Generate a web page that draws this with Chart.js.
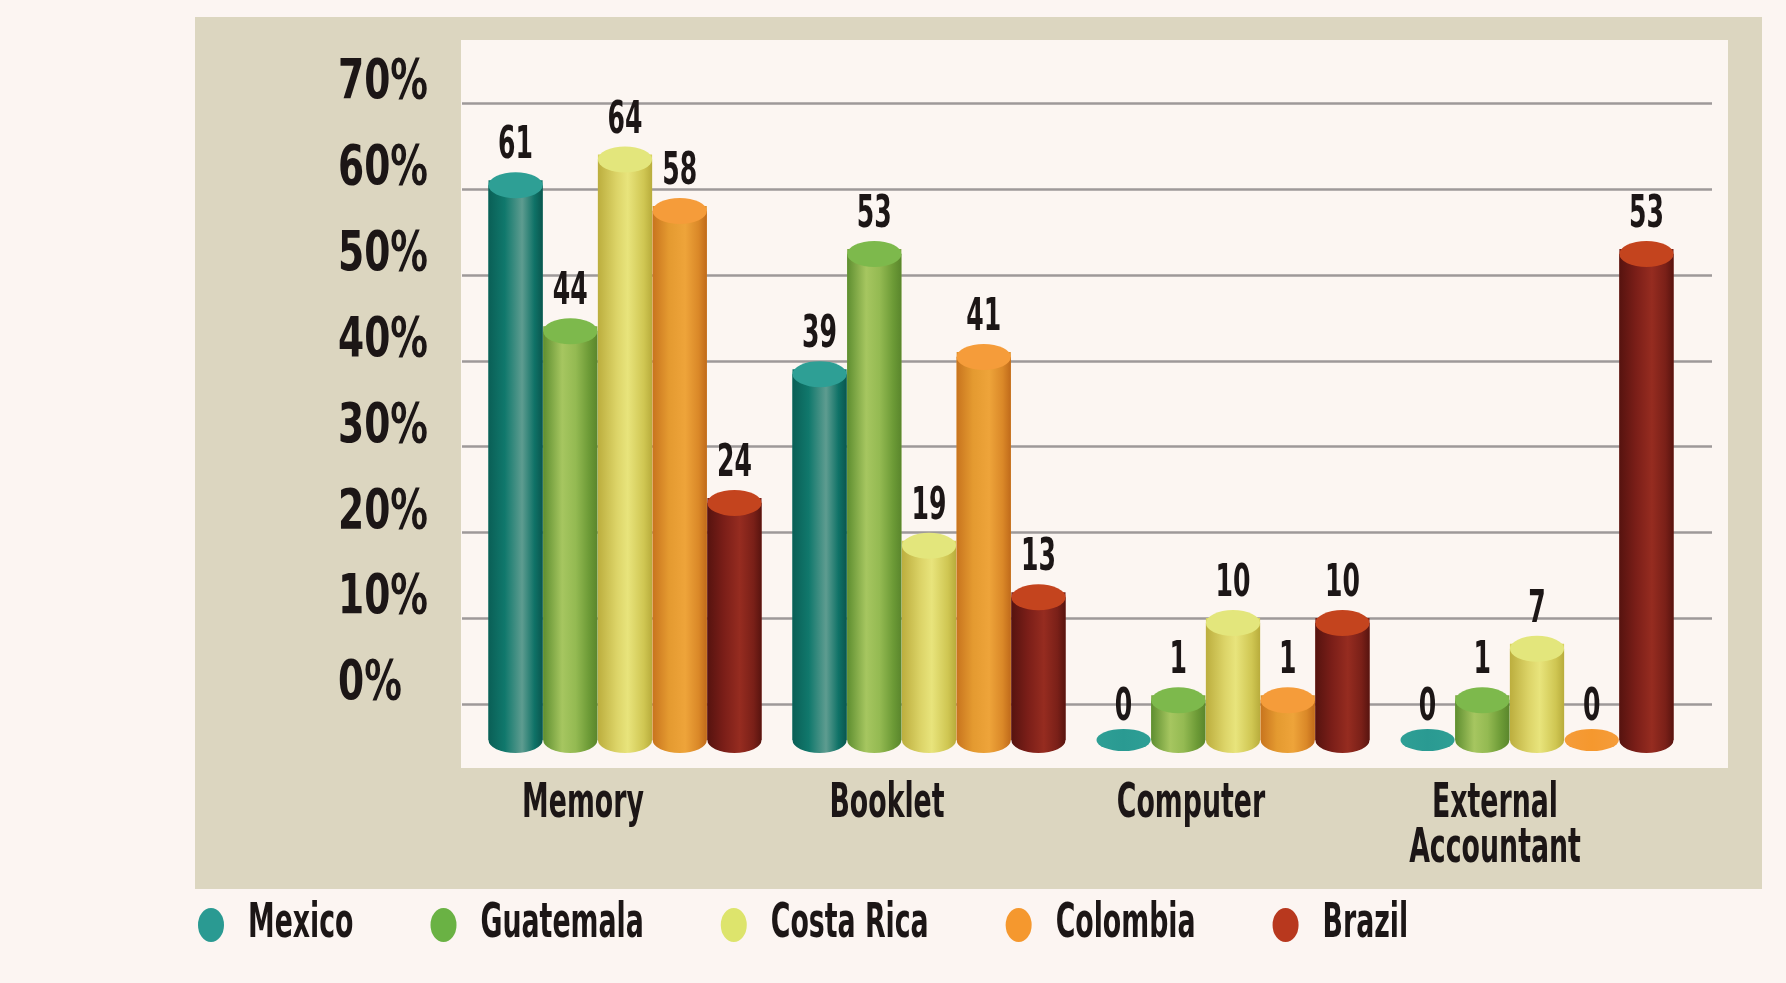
<!DOCTYPE html>
<html><head><meta charset="utf-8">
<script src="https://cdn.jsdelivr.net/npm/chart.js@4"></script>
<style>html,body{margin:0;padding:0;background:#FCF5F2;}canvas{display:block;}</style>
</head><body>
<canvas id="c" width="1786" height="983"></canvas>
<script>
// ---- data ----
const categories = ['Memory', 'Booklet', 'Computer', ['External', 'Accountant']];
const countries = ['Mexico', 'Guatemala', 'Costa Rica', 'Colombia', 'Brazil'];
const mexico    = [61, 39, 0, 0];
const guatemala = [44, 53, 1, 1];
const costaRica = [64, 19, 10, 7];
const colombia  = [58, 41, 1, 0];
const brazil    = [24, 13, 10, 53];
const yTickValues = [0, 10, 20, 30, 40, 50, 60, 70];
const yTickLabels = ['0%', '10%', '20%', '30%', '40%', '50%', '60%', '70%'];

// ---- styles ----
const FONT = '"DejaVu Sans Condensed", "DejaVu Sans", sans-serif';
const TEXT = '#1C1616';
const palettes = [
  { solid: '#137A6E', cap: '#2E9F95', legend: '#2A9A92',
    body: [[0, '#0A5F56'], [0.3, '#10786C'], [0.62, '#5E9C90'], [0.85, '#0F7267'], [1, '#0A564E']] },
  { solid: '#7FA944', cap: '#7DB94C', legend: '#6AB244',
    body: [[0, '#5E8E30'], [0.35, '#A6C660'], [0.6, '#94BA52'], [0.85, '#6C9A36'], [1, '#5A862C']] },
  { solid: '#D8D262', cap: '#E3E67C', legend: '#DDE46C',
    body: [[0, '#BCAE3E'], [0.35, '#DCD468'], [0.55, '#E8E47C'], [0.85, '#CFC652'], [1, '#B8AC3C']] },
  { solid: '#E2922C', cap: '#F59C3A', legend: '#F5982E',
    body: [[0, '#C8741E'], [0.3, '#E49A30'], [0.6, '#EEA43A'], [0.85, '#DA8828'], [1, '#C06A1A']] },
  { solid: '#7E2219', cap: '#C4441E', legend: '#B8381E',
    body: [[0, '#56130F'], [0.3, '#7A1E18'], [0.6, '#962C20'], [0.85, '#7A2018'], [1, '#58140F']] }
];
const seriesValues = [mexico, guatemala, costaRica, colombia, brazil];

// condensed text rendering (narrow display face is not installed)
const canvas = document.getElementById('c');
const ctx2d = canvas.getContext('2d');
function sxFor(font) {
  const m = /(\d+(?:\.\d+)?)px/.exec(font);
  const s = m ? parseFloat(m[1]) : 12;
  return s >= 52 ? 0.76 : 0.62;
}
const protoFill = CanvasRenderingContext2D.prototype.fillText;
const protoMeasure = CanvasRenderingContext2D.prototype.measureText;
ctx2d.fillText = function (t, x, y, mw) {
  const sx = sxFor(this.font);
  this.save();
  this.translate(x, y);
  this.scale(sx, 1);
  if (mw !== undefined) protoFill.call(this, t, 0, 0, mw / sx);
  else protoFill.call(this, t, 0, 0);
  this.restore();
};
ctx2d.measureText = function (t) {
  const m = protoMeasure.call(this, t);
  const sx = sxFor(this.font);
  return {
    width: m.width * sx,
    actualBoundingBoxLeft: m.actualBoundingBoxLeft * sx,
    actualBoundingBoxRight: m.actualBoundingBoxRight * sx,
    actualBoundingBoxAscent: m.actualBoundingBoxAscent,
    actualBoundingBoxDescent: m.actualBoundingBoxDescent,
    fontBoundingBoxAscent: m.fontBoundingBoxAscent,
    fontBoundingBoxDescent: m.fontBoundingBoxDescent
  };
};

const decor = {
  id: 'decor',
  beforeDraw(chart) {
    const ctx = chart.ctx, a = chart.chartArea;
    ctx.save();
    ctx.fillStyle = '#FCF5F2';
    ctx.fillRect(0, 0, chart.width, chart.height);
    ctx.fillStyle = '#DCD6C0';
    ctx.fillRect(a.left - 278, a.top - 86, (a.right + 73) - (a.left - 278), (a.bottom + 149) - (a.top - 86));
    ctx.fillStyle = '#FCF6F2';
    ctx.fillRect(a.left - 12, a.top - 63, (a.right + 39) - (a.left - 12), (a.bottom + 28) - (a.top - 63));
    ctx.restore();
  },
  beforeDatasetsDraw(chart) {
    const ctx = chart.ctx, a = chart.chartArea, ys = chart.scales.y;
    ctx.save();
    ctx.strokeStyle = '#9E9999';
    ctx.lineWidth = 2.5;
    yTickValues.forEach(v => {
      const py = Math.round(ys.getPixelForValue(v)) + 0.5;
      ctx.beginPath();
      ctx.moveTo(a.left - 11, py);
      ctx.lineTo(a.right + 23, py);
      ctx.stroke();
    });
    ctx.restore();
  },
  afterDatasetsDraw(chart) {
    const ctx = chart.ctx;
    ctx.save();
    chart.data.datasets.forEach((ds, di) => {
      const pal = palettes[di];
      chart.getDatasetMeta(di).data.forEach((el, i) => {
        const v = ds.data[i];
        const cx = el.x, rx = el.width / 2, base = el.base;
        let labelY;
        if (v === 0) {
          const g0 = ctx.createLinearGradient(cx - rx, 0, cx + rx, 0);
          g0.addColorStop(0, pal.cap); g0.addColorStop(0.5, pal.legend); g0.addColorStop(1, pal.cap);
          ctx.fillStyle = g0;
          ctx.beginPath();
          ctx.ellipse(cx, base, rx, 11, 0, 0, Math.PI * 2);
          ctx.fill();
          labelY = base - 11 - 9;
        } else {
          const ry = 13;
          const top = el.y + 5;
          const g = ctx.createLinearGradient(cx - rx, 0, cx + rx, 0);
          pal.body.forEach(([o, c]) => g.addColorStop(o, c));
          ctx.fillStyle = g;
          ctx.beginPath();
          ctx.moveTo(cx - rx, top);
          ctx.lineTo(cx - rx, base);
          ctx.ellipse(cx, base, rx, ry, 0, Math.PI, 0, true);
          ctx.lineTo(cx + rx, top);
          ctx.closePath();
          ctx.fill();
          ctx.fillStyle = pal.cap;
          ctx.beginPath();
          ctx.ellipse(cx, top, rx, ry, 0, 0, Math.PI * 2);
          ctx.fill();
          labelY = top - ry - 14;
        }
        ctx.fillStyle = TEXT;
        ctx.font = 'bold 45px ' + FONT;
        ctx.textAlign = 'center';
        ctx.textBaseline = 'alphabetic';
        ctx.fillText(String(v), cx, labelY);
      });
    });
    ctx.restore();
  }
};

const datasets = countries.map((name, di) => ({
  label: name,
  data: seriesValues[di],
  base: -4.2,
  backgroundColor: c => (c.raw === 0 ? 'rgba(0,0,0,0)' : palettes[di].solid),
  borderWidth: 0,
  categoryPercentage: 0.9,
  barPercentage: 0.99
}));

new Chart(canvas, {
  type: 'bar',
  data: { labels: categories, datasets },
  options: {
    responsive: false,
    animation: false,
    devicePixelRatio: 1,
    layout: { padding: { left: 121, right: 97, top: 103, bottom: 24 } },
    plugins: {
      tooltip: { enabled: false },
      legend: {
        position: 'bottom',
        align: 'start',
        labels: {
          usePointStyle: true,
          pointStyle: 'circle',
          boxHeight: 24,
          pointStyleWidth: 26,
          padding: 77,
          color: TEXT,
          font: { family: FONT, size: 48, weight: 'bold' },
          generateLabels: () => countries.map((name, i) => ({
            text: name, fillStyle: palettes[i].legend, strokeStyle: 'rgba(0,0,0,0)',
            lineWidth: 0, pointStyle: 'circle', hidden: false, datasetIndex: i, fontColor: TEXT
          }))
        }
      }
    },
    scales: {
      x: {
        grid: { display: false, drawTicks: false },
        border: { display: false },
        ticks: {
          padding: 42,
          labelOffset: -42,
          color: TEXT,
          font: { family: FONT, size: 48, weight: 'bold', lineHeight: 0.94 }
        },
        afterFit: s => { s.height = 84; s._computeLabelArea = () => undefined; }
      },
      y: {
        min: -4.2,
        max: 70,
        weight: 0,
        grid: { display: false, drawTicks: false },
        border: { display: false },
        afterBuildTicks: s => { s.ticks = yTickValues.map(v => ({ value: v })); },
        ticks: {
          crossAlign: 'far',
          labelOffset: -19,
          color: TEXT,
          font: { family: FONT, size: 55, weight: 'bold' },
          callback: (v) => yTickLabels[yTickValues.indexOf(v)]
        },
        afterFit: s => { s.width = 135; }
      },
      pad: {
        type: 'linear',
        position: 'left',
        weight: 5,
        display: true,
        grid: { display: false, drawTicks: false },
        border: { display: false },
        ticks: { display: false },
        afterFit: s => { s.width = 217; }
      }
    }
  },
  plugins: [decor]
});
</script>
</body></html>
